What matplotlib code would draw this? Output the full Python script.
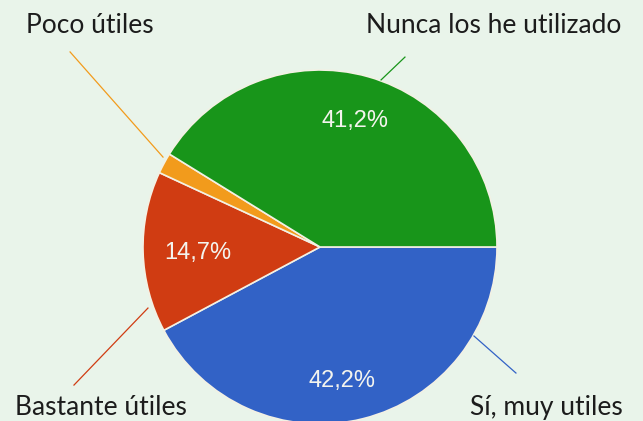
import matplotlib
matplotlib.use("Agg")
import matplotlib.pyplot as plt

# ── data ────────────────────────────────────────────────────────────────────
labels = ["Sí, muy utiles", "Bastante útiles", "Poco útiles", "Nunca los he utilizado"]
shares = [42.2, 14.7, 1.9, 41.2]
colors = ["#3262c6", "#d03c12", "#f29b1c", "#18951a"]

BG = "#e9f4ea"

# layout (pie radius = 1, centre at origin)
pct_pos = [(0.124, -0.757), (-0.689, -0.034), None, (0.198, 0.712)]
label_pos = [(1.277, -0.904), (-1.237, -0.904), (-1.30, 1.254), (0.983, 1.254)]
leader_from = [(0.870, -0.503), (-0.972, -0.345), (-0.887, 0.508), (0.345, 0.944)]
leader_to = [(1.107, -0.712), (-1.390, -0.780), (-1.412, 1.102), (0.480, 1.073)]

fig = plt.figure(figsize=(6.43, 4.21), dpi=100, facecolor=BG)
ax = fig.add_axes([0, 0, 1, 1])
ax.set_facecolor(BG)

wedges, _ = ax.pie(
    shares,
    colors=colors,
    startangle=0,
    counterclock=False,
    radius=1.0,
    wedgeprops=dict(edgecolor="#f3f1e4", linewidth=1.2),
)

# percentage labels inside the slices (comma decimal)
for share, pos in zip(shares, pct_pos):
    if pos is None:
        continue
    txt = f"{share:.1f}%".replace(".", ",")
    ax.text(pos[0], pos[1], txt, ha="center", va="center", color="#f4f4ee",
            fontsize=17, family="Liberation Sans")

# outside labels with leader lines
for lab, pos, p0, p1, c in zip(labels, label_pos, leader_from, leader_to, colors):
    ax.plot([p0[0], p1[0]], [p0[1], p1[1]], color=c, linewidth=0.9)
    ax.text(pos[0], pos[1], lab, ha="center", va="center", fontsize=19,
            family="Lato", color="#1c1c1c")

ax.set_xlim(-320 / 177, (643 - 320) / 177)
ax.set_ylim(-(421 - 247) / 177, 247 / 177)
ax.set_aspect("equal")
ax.axis("off")

fig.savefig("out.png", dpi=100, facecolor=BG)
